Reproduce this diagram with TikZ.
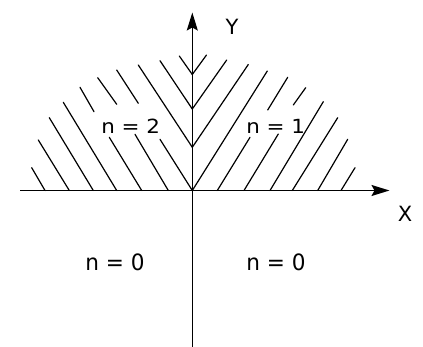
\documentclass[tikz,border=0pt]{standalone}
\usepackage{fontspec}
\usepackage{graphicx}
\newfontfamily\dvs{DejaVu Sans}
\usetikzlibrary{arrows.meta}
\tikzset{
  axisline/.style={line width=1.4pt, -{Stealth[length=18pt,width=11pt,inset=3pt]}},
  hatch/.style={line width=1.2pt, line cap=round},
  toplabel/.style={inner sep=0pt, anchor=base, font=\dvs\fontsize{19.5}{22}\selectfont},
  botlabel/.style={inner sep=0pt, anchor=base, font=\dvs\fontsize{22.5}{25}\selectfont},
  axlabel/.style={inner sep=0pt, font=\dvs\fontsize{21}{24}\selectfont},
}
\begin{document}
\begin{tikzpicture}[x=1pt,y=-1pt]
\useasboundingbox (0,0) rectangle (423,347);
% axes
\coordinate (O) at (192.3,190.5);
\coordinate (xl) at (20,190.5);
\coordinate (xr) at (389.5,190.5);
\coordinate (yb) at (192.3,347);
\coordinate (yt) at (192.3,12.5);
\draw[axisline] (xl) -- (xr);
\draw[axisline] (yb) -- (yt);
% hatch, left half
\draw[hatch] (192.3,74.5) -- (179.3,56);
\draw[hatch] (192.3,109) -- (160,60.7);
\draw[hatch] (192.3,147.3) -- (138.3,65);
\draw[hatch] (O) -- (160,139.3);
\draw[hatch] (138.3,103.3) -- (116.7,70);
\draw[hatch] (168.3,190.5) -- (135,134.3);
\draw[hatch] (116.7,104.3) -- (97.7,77.7);
\draw[hatch] (141.7,190.5) -- (109.3,137.3);
\draw[hatch] (94,111.7) -- (80,87.3);
\draw[hatch] (116.7,190.5) -- (63.3,102.3);
\draw[hatch] (93.3,190.5) -- (49.3,117.7);
\draw[hatch] (69.3,190.5) -- (38.3,140);
\draw[hatch] (45,190.5) -- (31.7,167.7);
% hatch, right half
\draw[hatch] (192.3,74.5) -- (206.5,55);
\draw[hatch] (192.3,109) -- (226.7,60);
\draw[hatch] (192.3,147.3) -- (248.3,64.5);
\draw[hatch] (O) -- (267.3,71);
\draw[hatch] (217.3,190.5) -- (250,137.3);
\draw[hatch] (267.7,110) -- (287.7,77.3);
\draw[hatch] (244,190.5) -- (278.3,134);
\draw[hatch] (293.3,105) -- (305.7,87.7);
\draw[hatch] (270,190.5) -- (323.3,101.7);
\draw[hatch] (292.3,190.5) -- (337.7,117.7);
\draw[hatch] (317.7,190.5) -- (347.7,139.3);
\draw[hatch] (341,190.5) -- (355,167.7);
% labels
\node[toplabel] (n2) at (130.7,133.3) {\scalebox{1.1}[1]{n = 2}};
\node[toplabel] (n1) at (275.7,133.3) {\scalebox{1.1}[1]{n = 1}};
\node[botlabel] (n0l) at (115,271) {\scalebox{0.96}[1]{n = 0}};
\node[botlabel] (n0r) at (276,271) {\scalebox{0.96}[1]{n = 0}};
\node[axlabel] (xlab) at (405,214) {X};
\node[axlabel] (ylab) at (232,27) {Y};
\end{tikzpicture}
\end{document}
